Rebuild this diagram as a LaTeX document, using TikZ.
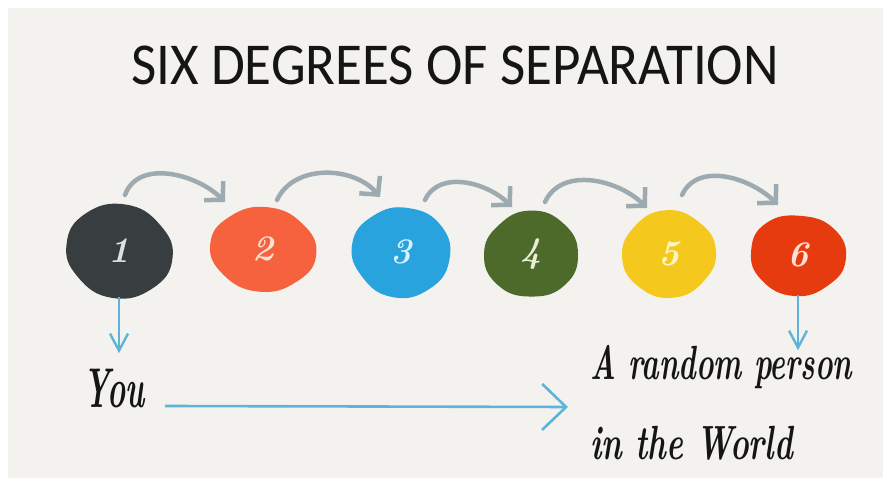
\documentclass[tikz,border=0pt]{standalone}
\usepackage{fontspec}
\newfontfamily\titlefont{Carlito}
\usetikzlibrary{arrows.meta,calc,shapes.geometric}

\definecolor{paper}{HTML}{F3F2EF}
\definecolor{arcgray}{HTML}{9DAAAF}
\definecolor{lineblue}{HTML}{5FB2D8}
\definecolor{ink}{HTML}{151515}
% blob fills and their pale numerals
\definecolor{fillA}{HTML}{383D3F}\definecolor{numA}{HTML}{DDE1E1}
\definecolor{fillB}{HTML}{F5623D}\definecolor{numB}{HTML}{FDE3D3}
\definecolor{fillC}{HTML}{29A3DE}\definecolor{numC}{HTML}{D4F1FC}
\definecolor{fillD}{HTML}{4E6A2B}\definecolor{numD}{HTML}{E8EFD6}
\definecolor{fillE}{HTML}{F5C81D}\definecolor{numE}{HTML}{FEF5C2}
\definecolor{fillF}{HTML}{E63A0F}\definecolor{numF}{HTML}{FDE0D4}

\tikzset{
  blobnum/.style={ellipse, draw=none, inner sep=0pt,
    font=\fontsize{36}{38}\selectfont\bfseries\itshape},
  hoparc/.style={draw=arcgray, line width=4.5pt, line cap=round,
    -{Straight Barb[length=13pt,width=27pt,line width=4.5pt]}},
  bluearrow/.style={draw=lineblue, line width=2.4pt,
    -{Straight Barb[length=17pt,width=18pt,line width=2.4pt]}},
  longarrow/.style={draw=lineblue, line width=2.6pt,
    -{Straight Barb[length=24pt,width=46pt,line width=2.6pt]}},
  hand/.style={text=ink, inner sep=0pt},
}

% irregular blob: #1 centre, #2 rx, #3 ry, #4 tilt, #5 colour, #6 radius factors
\newcommand\drawblob[6]{%
  \begin{scope}[shift={#1}, rotate=#4, xscale=#2, yscale=#3]
    \fill[#5] plot[smooth cycle, tension=0.8] coordinates {#6};
  \end{scope}}

\begin{document}
\begin{tikzpicture}[x=1pt,y=1pt]
\useasboundingbox (0,0) rectangle (883,486);
\fill[white] (0,0) rectangle (883,486);
\fill[paper] (8,8) rectangle (883,478);

% heading
\node[font=\titlefont\fontsize{55}{60}\selectfont, text=ink, yscale=1.08] (title) at (455,421)
  {SIX DEGREES OF SEPARATION};

% the six people
\drawblob{(119,235)}{54}{46}{-8}{fillA}
  {(0:1.0) (45:0.97) (90:1.02) (135:1.0) (180:0.98) (225:0.97) (270:1.03) (315:1.0)}
\drawblob{(263,237)}{53}{42}{-6}{fillB}
  {(0:1.01) (45:0.98) (90:1.0) (135:0.97) (180:1.0) (225:0.99) (270:1.02) (315:0.98)}
\drawblob{(401,234)}{49}{45}{-10}{fillC}
  {(0:1.0) (45:1.02) (90:0.99) (135:0.97) (180:1.01) (225:0.98) (270:1.02) (315:0.99)}
\drawblob{(531,232)}{47}{43}{0}{fillD}
  {(0:1.0) (45:0.99) (90:1.01) (135:0.96) (180:1.0) (225:1.01) (270:0.99) (315:1.02)}
\drawblob{(669,232)}{47}{43}{5}{fillE}
  {(0:1.0) (45:0.97) (90:1.02) (135:0.98) (180:1.0) (225:0.99) (270:1.02) (315:0.98)}
\drawblob{(798,231)}{48}{40}{-5}{fillF}
  {(0:1.0) (45:1.01) (90:0.98) (135:1.02) (180:0.98) (225:1.0) (270:1.03) (315:0.97)}

\node[blobnum, text=numA, minimum width=108pt, minimum height=92pt] (b1) at (119,235) {1};
\node[blobnum, text=numB, minimum width=106pt, minimum height=84pt] (b2) at (263,237) {2};
\node[blobnum, text=numC, minimum width=98pt,  minimum height=90pt] (b3) at (401,234) {3};
\node[blobnum, text=numD, minimum width=94pt,  minimum height=86pt] (b4) at (531,232) {4};
\node[blobnum, text=numE, minimum width=94pt,  minimum height=86pt] (b5) at (669,232) {5};
\node[blobnum, text=numF, minimum width=96pt,  minimum height=80pt] (b6) at (798,231) {6};

% hops from one person to the next
\draw[hoparc] ($(b1.center)+(6,56)$)  to[out=70,in=135] ($(b2.center)+(-38,47)$);
\draw[hoparc] ($(b2.center)+(14,49)$) to[out=65,in=130] ($(b3.center)+(-21,55)$);
\draw[hoparc] ($(b3.center)+(24,52)$) to[out=65,in=135] ($(b4.center)+(-19,47)$);
\draw[hoparc] ($(b4.center)+(14,52)$) to[out=65,in=135] ($(b5.center)+(-22,46)$);
\draw[hoparc] ($(b5.center)+(13,59)$) to[out=65,in=135] ($(b6.center)+(-20,50)$);

% captions
\node[hand, anchor=base] (you) at (114,78)
  {\scalebox{0.55}[1]{\fontsize{56}{60}\selectfont\bfseries\itshape You}};
\node[hand, anchor=base west] (rp1) at (590,106)
  {\scalebox{0.62}[1]{\fontsize{48}{52}\selectfont\bfseries\itshape A random person}};
\node[hand, anchor=base west] (rp2) at (590,26)
  {\scalebox{0.66}[1]{\fontsize{48}{52}\selectfont\bfseries\itshape in the World}};

\coordinate (reach) at (568,79);
\draw[bluearrow] (b1.south) -- ($(b1.south)+(0,-56)$);
\draw[bluearrow] (b6.south) -- ($(b6.south)+(0,-55)$);
\draw[longarrow] (165,80) -- (reach);
\end{tikzpicture}
\end{document}
